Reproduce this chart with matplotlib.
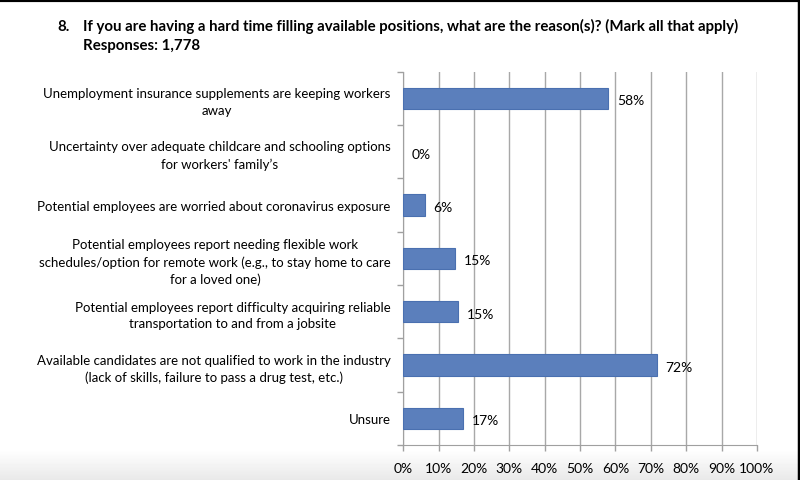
import matplotlib
matplotlib.use("Agg")
import matplotlib.pyplot as plt
import numpy as np

# Data ----------------------------------------------------------------------------------------------------------------
categories = [
    "Unemployment insurance supplements are keeping workers\naway",
    "Uncertainty over adequate childcare and schooling options\nfor workers' family\u2019s",
    "Potential employees are worried about coronavirus exposure",
    "Potential employees report needing flexible work\nschedules/option for remote work (e.g., to stay home to care\nfor a loved one)",
    "Potential employees report difficulty acquiring reliable\ntransportation to and from a jobsite",
    "Available candidates are not qualified to work in the industry\n(lack of skills, failure to pass a drug test, etc.)",
    "Unsure",
]
values = [57.9, 0.0, 6.1, 14.7, 15.5, 71.6, 16.9]
value_labels = ["58%", "0%", "6%", "15%", "15%", "72%", "17%"]
x_ticks = list(range(0, 101, 10))
x_tick_labels = [f"{t}%" for t in x_ticks]
title_number = "8."
title_text = "If you are having a hard time filling available positions, what are the reason(s)? (Mark all that apply)\nResponses: 1,778"

# Plot ----------------------------------------------------------------------------------------------------------------
plt.rcParams['font.family'] = ['Lato', 'DejaVu Sans']
fig = plt.figure(figsize=(8, 4.81), dpi=100)

# background gradient at the bottom of the screenshot, dark frame top/right
bg = fig.add_axes([0, 0, 1, 1], zorder=-10)
grad = np.ones((481, 1))
ramp = np.clip((np.arange(481) - 450) / 31.0, 0, 1)
grad[:, 0] = 1 - 0.09 * ramp
bg.imshow(grad, cmap='gray', vmin=0, vmax=1, aspect='auto', extent=[0, 1, 1, 0])
bg.plot([0, 1], [0.998, 0.998], color='black', lw=3, transform=bg.transAxes, clip_on=False)
bg.plot([0.9985, 0.9985], [0, 1], color='black', lw=2.5, transform=bg.transAxes, clip_on=False)
bg.set_xlim(0, 1); bg.set_ylim(1, 0)
bg.axis('off')

ax = fig.add_axes([0.5041, 0.0728, 0.4421, 0.7761])
n = len(categories)
y = np.arange(n)
edge_widths = [0.8 if v > 0 else 0 for v in values]
ax.barh(y, values, height=0.4, color='#5b7fbc', edgecolor='#4a70b0', linewidth=edge_widths, zorder=3)
for yi, v, lab in zip(y, values, value_labels):
    ax.text(v + 2.5, yi + 0.04, lab, va='center', ha='left', fontsize=10, color='black', zorder=4)

ax.set_xlim(0, 100)
ax.set_ylim(n - 0.5, -0.5)
ax.set_xticks(x_ticks)
ax.set_xticklabels(x_tick_labels, fontsize=10)
ax.set_yticks(y)
ax.set_yticklabels(categories, fontsize=9.5, multialignment='center', linespacing=1.45)
ax.set_yticks(np.arange(-0.5, n, 1), minor=True)
ax.tick_params(axis='y', which='major', length=0, pad=9)
ax.tick_params(axis='y', which='minor', length=4, color='#a0a0a0', width=1)
ax.tick_params(axis='x', length=4, color='#a0a0a0', width=1, pad=8)
ax.grid(axis='x', color='#a8a8a8', lw=1, zorder=0)
for side in ['top', 'right']:
    ax.spines[side].set_visible(False)
ax.spines['left'].set_color('#a0a0a0')
ax.spines['bottom'].set_color('#a0a0a0')
ax.set_facecolor('none')

fig.text(57 / 800, 1 - 27 / 481, title_number, fontsize=10.8, fontweight='bold', va='center', ha='left')
fig.text(83 / 800, 1 - 36 / 481, title_text, fontsize=10.8, fontweight='bold', va='center', ha='left', linespacing=1.4)

fig.savefig("out.png", dpi=100)
